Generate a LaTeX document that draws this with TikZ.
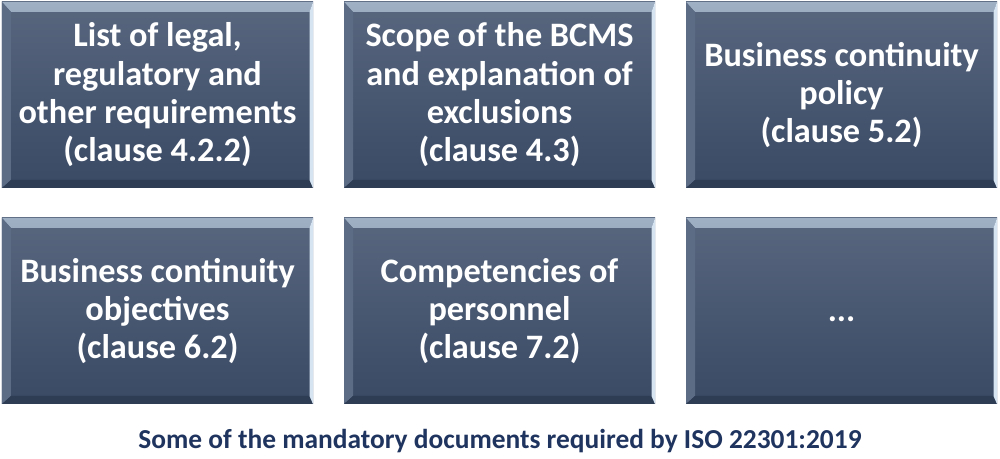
\documentclass[tikz,border=0pt]{standalone}
\usepackage{fontspec}
\setmainfont{Carlito}
\usetikzlibrary{positioning}
\definecolor{slatetop}{RGB}{88, 103, 126}
\definecolor{slatebot}{RGB}{58, 73, 100}
\definecolor{bevlight}{RGB}{160, 176, 196}
\definecolor{bevmid}{RGB}{100, 116, 138}
\definecolor{bevleft}{RGB}{92, 108, 132}
\definecolor{bevright}{RGB}{214, 228, 242}
\definecolor{bevdark}{RGB}{46, 60, 84}
\definecolor{capnavy}{RGB}{31, 52, 94}

\begin{document}
\begin{tikzpicture}[
  docbox/.style={minimum width=6.22cm, minimum height=3.72cm, inner sep=0pt, outer sep=0pt,
    shading=axis, top color=slatetop, bottom color=slatebot, align=center, text=white,
    font=\fontsize{19.5}{21.8}\selectfont\bfseries,
    path picture={
      % bevelled edges
      \shade[top color=bevlight, bottom color=bevmid] (path picture bounding box.north west) -- (path picture bounding box.north east)
        -- ([shift={(-0.07,-0.2)}]path picture bounding box.north east) -- ([shift={(0.18,-0.2)}]path picture bounding box.north west) -- cycle;
      \fill[bevleft] (path picture bounding box.north west) -- ([shift={(0.18,-0.2)}]path picture bounding box.north west)
        -- ([shift={(0.18,0.16)}]path picture bounding box.south west) -- (path picture bounding box.south west) -- cycle;
      \fill[bevdark] (path picture bounding box.south west) -- ([shift={(0.18,0.16)}]path picture bounding box.south west)
        -- ([shift={(-0.07,0.16)}]path picture bounding box.south east) -- (path picture bounding box.south east) -- cycle;
      \fill[bevright] (path picture bounding box.south east) -- ([shift={(-0.07,0.16)}]path picture bounding box.south east)
        -- ([shift={(-0.07,-0.2)}]path picture bounding box.north east) -- (path picture bounding box.north east) -- cycle;
    }},
]
\useasboundingbox (0,0) rectangle (20,9.18);

\node[docbox, anchor=north west] (d1) at (0.04,9.14) {List of legal,\\regulatory and\\other requirements\\(clause 4.2.2)};
\node[docbox, right=0.62cm of d1] (d2) {Scope of the BCMS\\and explanation of\\exclusions\\(clause 4.3)};
\node[docbox, right=0.62cm of d2] (d3) {Business continuity\\policy\\(clause 5.2)};
\node[docbox, below=0.6cm of d1] (d4) {Business continuity\\objectives\\(clause 6.2)};
\node[docbox, right=0.62cm of d4] (d5) {Competencies of\\personnel\\(clause 7.2)};
\node[docbox, right=0.62cm of d5] (d6) {\vphantom{(}...};

% caption
\node[font=\fontsize{15.6}{18}\selectfont\bfseries, text=capnavy] (cap) at (10,0.36) {Some of the mandatory documents required by ISO 22301:2019};
\end{tikzpicture}
\end{document}
